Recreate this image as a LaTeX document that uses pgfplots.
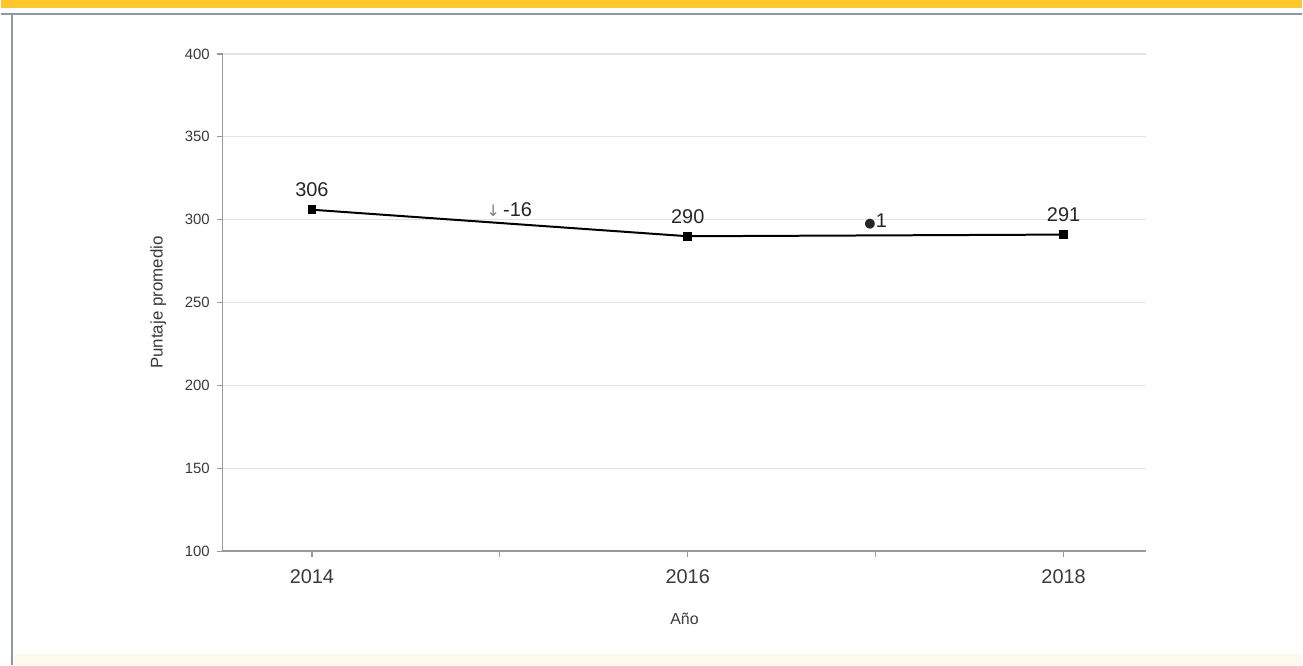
\documentclass[border=0pt]{standalone}
\usepackage{pgfplots}
\pgfplotsset{compat=1.18}
\usepackage{fontspec}
\setmainfont{Liberation Sans}
\newfontfamily\djv{DejaVu Sans}
\definecolor{gold}{HTML}{FFC72C}
\definecolor{framegray}{HTML}{8E98A4}
\definecolor{cream}{HTML}{FFF8EC}
\definecolor{gridc}{HTML}{E2E2E2}
\definecolor{axisc}{HTML}{9A9A9A}
\definecolor{txt}{HTML}{3A3A3A}
\begin{document}
\begin{tikzpicture}[x=1bp,y=1bp]
% background and decorative frame
\fill[white] (0,0) rectangle (651.5,333);
\fill[cream] (6.5,0) rectangle (651.5,5.5);
\fill[gold] (0,329) rectangle (651.5,333);
\draw[framegray, line width=1bp] (0,326.2) -- (651.5,326.2);
\draw[framegray, line width=1bp] (5.5,0) -- (5.5,326.2);
\begin{axis}[
  at={(111bp,57bp)}, anchor=south west,
  scale only axis, width=462.5bp, height=249bp,
  xmin=2013.525, xmax=2018.44,
  ymin=100, ymax=400,
  axis lines=left,
  axis line style={-, axisc, line width=0.8bp},
  xtick={2014,2015,2016,2017,2018},
  xticklabels={2014,,2016,,2018},
  ytick={100,150,200,250,300,350,400},
  ymajorgrids, grid style={gridc, line width=0.6bp},
  tick align=outside,
  major tick length=3bp,
  tick style={axisc, line width=0.6bp},
  xticklabel style={font=\fontsize{10}{12}\selectfont, text=txt, yshift=-2.5bp},
  yticklabel style={font=\fontsize{7.5}{9}\selectfont, text=txt},
  /pgf/number format/assume math mode=true,
  /pgf/number format/1000 sep={},
  xlabel={Año},
  ylabel={Puntaje promedio},
  xlabel style={font=\fontsize{8}{10}\selectfont, text=txt, yshift=-8bp},
  ylabel style={font=\fontsize{8.5}{10}\selectfont, text=txt, yshift=2.5bp},
  clip=false,
]
\addplot[black, line width=1bp, mark=square*, mark size=1.7bp,
  nodes near coords, point meta=explicit symbolic,
  every node near coord/.style={font=\fontsize{10}{12}\selectfont, text=black!85, anchor=south, yshift=2.5bp}]
  coordinates {(2014,306)[306] (2016,290)[290] (2018,291)[291]};
\node[font=\fontsize{10}{12}\selectfont, text=black!85] at (axis cs:2015.05,306) {{\djv\fontsize{8}{9}\selectfont\color{black!50}↓}\,-16};
\node[font=\fontsize{10}{12}\selectfont, text=black!85] at (axis cs:2017,299) {{\djv\fontsize{6.5}{8}\selectfont ●}1};
\end{axis}
\end{tikzpicture}
\end{document}
